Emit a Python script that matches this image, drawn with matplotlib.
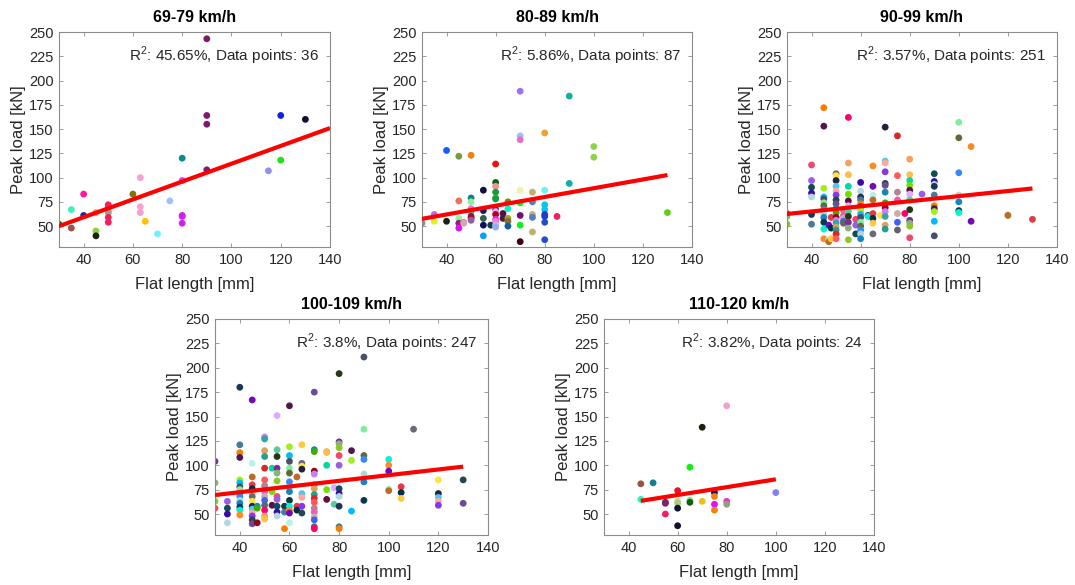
# peak load vs flat length, one panel per speed band

import matplotlib
matplotlib.use('Agg')
import matplotlib.pyplot as plt
import numpy as np

plt.rcParams['font.family'] = ['Liberation Sans', 'DejaVu Sans']
plt.rcParams['mathtext.fontset'] = 'custom'
plt.rcParams['mathtext.rm'] = 'Liberation Sans'

# speed bands
titles = ['69-79 km/h', '80-89 km/h', '90-99 km/h', '100-109 km/h', '110-120 km/h']
r2 = ['45.65', '5.86', '3.57', '3.8', '3.82']
n_points = [36, 87, 251, 247, 24]

# flat length [mm] -> peak loads [kN]
loads_69_79 = {30: [52], 35: [67, 48], 40: [83, 61], 45: [64, 45, 40],
               50: [72, 69, 66, 64, 59, 54], 60: [83], 63: [100, 70, 64],
               65: [55], 70: [42], 75: [76], 80: [120, 97, 61, 60, 53],
               90: [243, 164, 155, 108], 115: [107], 120: [164, 118], 130: [160]}

loads_80_89 = {30: [53], 35: [62, 55], 40: [128, 55], 45: [122, 76, 58, 53, 48],
               47: [54, 53], 50: [123, 79, 75, 68, 65, 60, 58, 56],
               55: [87, 66, 58, 51, 40], 58: [51],
               60: [114, 95, 91, 85, 79, 78, 67, 65, 62, 57, 55, 51, 49],
               63: [63, 58], 65: [75, 68, 58, 55, 50],
               70: [189, 143, 139, 87, 74, 61, 51, 34],
               75: [85, 75, 62, 59, 44], 80: [146, 87, 72, 67, 62, 60, 54, 36],
               85: [60], 90: [184, 94], 100: [132, 121], 130: [64]}

loads_90_99 = {30: [63, 60, 52], 40: [113, 97, 90, 84, 80, 62, 52],
               45: [172, 153, 89, 80, 78, 74, 71, 67, 63, 59, 54, 47, 37],
               47: [51, 36, 34], 48: [59, 48, 37],
               50: [104, 102, 97, 91, 86, 82, 77, 73, 68, 64, 59, 56, 53, 49, 46, 42, 37],
               53: [66, 61, 58, 55, 53],
               55: [162, 115, 103, 91, 83, 76, 71, 65, 60, 54, 48, 36],
               58: [57, 51, 42],
               60: [95, 86, 80, 77, 73, 70, 66, 62, 59, 54, 50, 46, 42, 37],
               63: [61, 60], 65: [112, 91, 82, 77, 63, 58, 53, 42], 68: [61],
               70: [152, 117, 115, 106, 94, 92, 85, 74, 69, 65, 60, 51, 47],
               75: [143, 102, 85, 77, 63, 54, 46], 78: [63],
               80: [119, 103, 97, 92, 87, 83, 77, 67, 56, 53, 50, 38], 85: [83],
               90: [104, 96, 93, 91, 82, 71, 68, 65, 55, 40],
               100: [157, 141, 105, 82, 75, 66, 64], 105: [132, 55],
               120: [62, 61], 130: [57]}

loads_100_109 = {30: [104, 82, 63, 56], 35: [63, 56, 50, 41],
                 40: [180, 121, 113, 108, 85, 82, 78, 75, 71, 68, 64, 61, 57, 54, 49],
                 45: [167, 102, 88, 80, 76, 72, 68, 63, 58, 55, 51, 48, 44, 40],
                 47: [58, 56, 41],
                 50: [129, 127, 115, 109, 97, 85, 79, 73, 68, 64, 59, 54, 48, 45],
                 53: [97, 73, 59],
                 55: [151, 116, 109, 97, 92, 84, 68, 65, 58, 52, 48],
                 58: [58, 52, 35],
                 60: [161, 119, 110, 104, 97, 92, 83, 77, 73, 64, 58, 54, 51, 41],
                 63: [88, 58, 54], 65: [121, 102, 99, 96, 71, 67, 58, 51],
                 70: [175, 116, 114, 94, 91, 80, 76, 70, 66, 62, 56, 52, 47, 44, 37, 35],
                 75: [114, 113, 100, 75, 65], 78: [77, 60],
                 80: [194, 124, 122, 118, 110, 100, 76, 71, 68, 58, 37, 35],
                 85: [115, 105, 53], 90: [211, 137, 110, 106, 91, 83, 64],
                 100: [106, 100, 94, 76, 74], 105: [78, 72, 66], 110: [137],
                 120: [85, 71, 67, 63, 59], 130: [85, 61]}

loads_110_120 = {45: [81, 65], 50: [82], 55: [62, 61, 50], 60: [74, 63, 61, 56, 38],
                 65: [98, 64, 62], 70: [139, 63], 75: [72, 68, 60, 54],
                 80: [161, 63, 60], 100: [72]}

# regression line end points (x, y)
fit_x = [[30, 140], [30, 130], [30, 130], [30, 130], [45, 100]]
fit_y = [[50, 151], [57.5, 102.6], [62.5, 88.8], [69.5, 98.6], [63.5, 85.6]]

# point colours
colors_69_79 = ['#0a6e0a', '#40f0c0', '#a0524a', '#ff1aa0', '#1a2aa0', '#ffa040', '#90d040',
                '#202010', '#f0205a', '#e03070', '#f0a030', '#a0a080', '#f0205a', '#f02060',
                '#857010', '#f8a0d0', '#f8a0d0', '#f0a0d0', '#ffc000', '#70f0f8', '#a0c0ff',
                '#108890', '#e040f0', '#d020f0', '#d020f0', '#d020f0', '#7a1a6a', '#7a1a6a',
                '#7a1a6a', '#7a1a6a', '#9090f0', '#1020e0', '#20e020', '#101030']
colors_80_89 = ['#8a9a70', '#b070e0', '#e0f020', '#1060f0', '#202010', '#7a9a40', '#f07060',
                '#a0f0a0', '#902080', '#e010f0', '#90a0a0', '#e0a0b0', '#f08010', '#108090',
                '#90f0a0', '#f070d0', '#80a070', '#901040', '#a01030', '#9060a0', '#101040',
                '#102070', '#306050', '#101060', '#10a0f0', '#104040', '#f01010', '#106010',
                '#f09090', '#10a030', '#709070', '#10a040', '#602080', '#f0a0f0', '#a01010',
                '#f020f0', '#f080d0', '#d0b0f0', '#90b0f0', '#501050', '#402040', '#808010',
                '#10f0c0', '#b0a010', '#807040', '#1060a0', '#a070f0', '#a0c0f0', '#e070d0',
                '#f0f0b0', '#10f010', '#701070', '#10f020', '#400010', '#c0b070', '#5080c0',
                '#c0b080', '#5080c0', '#c0b070', '#f0a030', '#70f0f0', '#10c0f0', '#10c0f0',
                '#2040c0', '#2040c0', '#2050c0', '#2050d0', '#f02060', '#10b0a0', '#10b0a0',
                '#90d050', '#90d050', '#60d010']
colors_110_120 = ['#a05040', '#30f0c0', '#108090', '#3030a0', '#802070', '#f02060', '#f01020',
                  '#f0c090', '#a0d080', '#101030', '#101030', '#10f010', '#80e080', '#106010',
                  '#202010', '#f0c010', '#101050', '#f08010', '#e010f0', '#f08010', '#f0a0d0',
                  '#f030c0', '#90a080', '#8080f0']
palette = ['#7b2d8e', '#2a9d8f', '#e63946', '#457b9d', '#f4a261', '#264653', '#a8dadc',
           '#8ab17d', '#d62828', '#003049', '#f77f00', '#fcbf49', '#6a4c93', '#1982c4',
           '#8ac926', '#ff595e', '#ffca3a', '#4d194d', '#06d6a0', '#118ab2', '#073b4c',
           '#ef476f', '#b5838d', '#6d6875', '#9ef01a', '#70e000', '#38b000', '#00f5d4',
           '#9b5de5', '#f15bb5', '#fee440', '#00bbf9', '#5f0f40', '#9a031e', '#fb8b24',
           '#0f4c5c', '#c9ada7', '#22223b', '#4a4e69', '#e0aaff', '#c77dff', '#7209b7',
           '#3a0ca3', '#4361ee', '#4cc9f0', '#80ed99', '#57cc99', '#38a3a5', '#b8f2e6',
           '#aed9e0', '#5e6472', '#ffa69e', '#606c38', '#283618', '#dda15e', '#bc6c25',
           '#1d3557', '#ff006e', '#8338ec', '#3a86ff']

all_loads = [loads_69_79, loads_80_89, loads_90_99, loads_100_109, loads_110_120]
all_colors = [colors_69_79, colors_80_89, None, None, colors_110_120]

# axes boxes in pixels: left, right, top, bottom
W, H = 1075, 585
boxes = [(59, 330, 32, 247), (422, 692, 32, 247), (787, 1057, 32, 247),
         (215, 488, 319, 535), (604, 874, 319, 535)]

axis_grey = '#8c8c8c'
text_grey = '#262626'

fig = plt.figure(figsize=(W / 100, H / 100), dpi=100)

for i, (l, r, t, b) in enumerate(boxes):
    ax = fig.add_axes([l / W, (H - b) / H, (r - l) / W, (b - t) / H])

    xs, ys = [], []
    for k, v in all_loads[i].items():
        xs += [k] * len(v)
        ys += v
    cols = all_colors[i]
    if cols is None or len(cols) < len(xs):
        cols = [palette[(j * 7) % len(palette)] for j in range(len(xs))]

    ax.scatter(xs, ys, s=24, c=cols[:len(xs)], linewidths=0, zorder=2)
    ax.plot(fit_x[i], fit_y[i], color='#ff0000', lw=3, solid_capstyle='butt', zorder=3)

    ax.set_xlim(30, 140)
    ax.set_ylim(28.5, 250)
    ax.set_xticks(np.arange(40, 141, 20))
    ax.set_yticks(np.arange(50, 251, 25))
    ax.tick_params(direction='in', length=3, width=0.6, color=axis_grey,
                   top=True, right=True, labelsize=10.5, labelcolor=text_grey, pad=4)
    for sp in ax.spines.values():
        sp.set_color(axis_grey)
        sp.set_linewidth(0.8)

    ax.set_xlabel('Flat length [mm]', fontsize=12, color=text_grey, labelpad=7.5)
    ax.set_ylabel('Peak load [kN]', fontsize=12, color=text_grey, labelpad=2)
    ax.set_title(titles[i], fontsize=11.5, fontweight='bold', color='black', pad=7)
    ax.text(0.96, 0.89, 'R$^2$: %s%%, Data points: %d' % (r2[i], n_points[i]),
            transform=ax.transAxes, ha='right', va='center', fontsize=11, color=text_grey)

fig.savefig('out.png', dpi=100, facecolor='white')
